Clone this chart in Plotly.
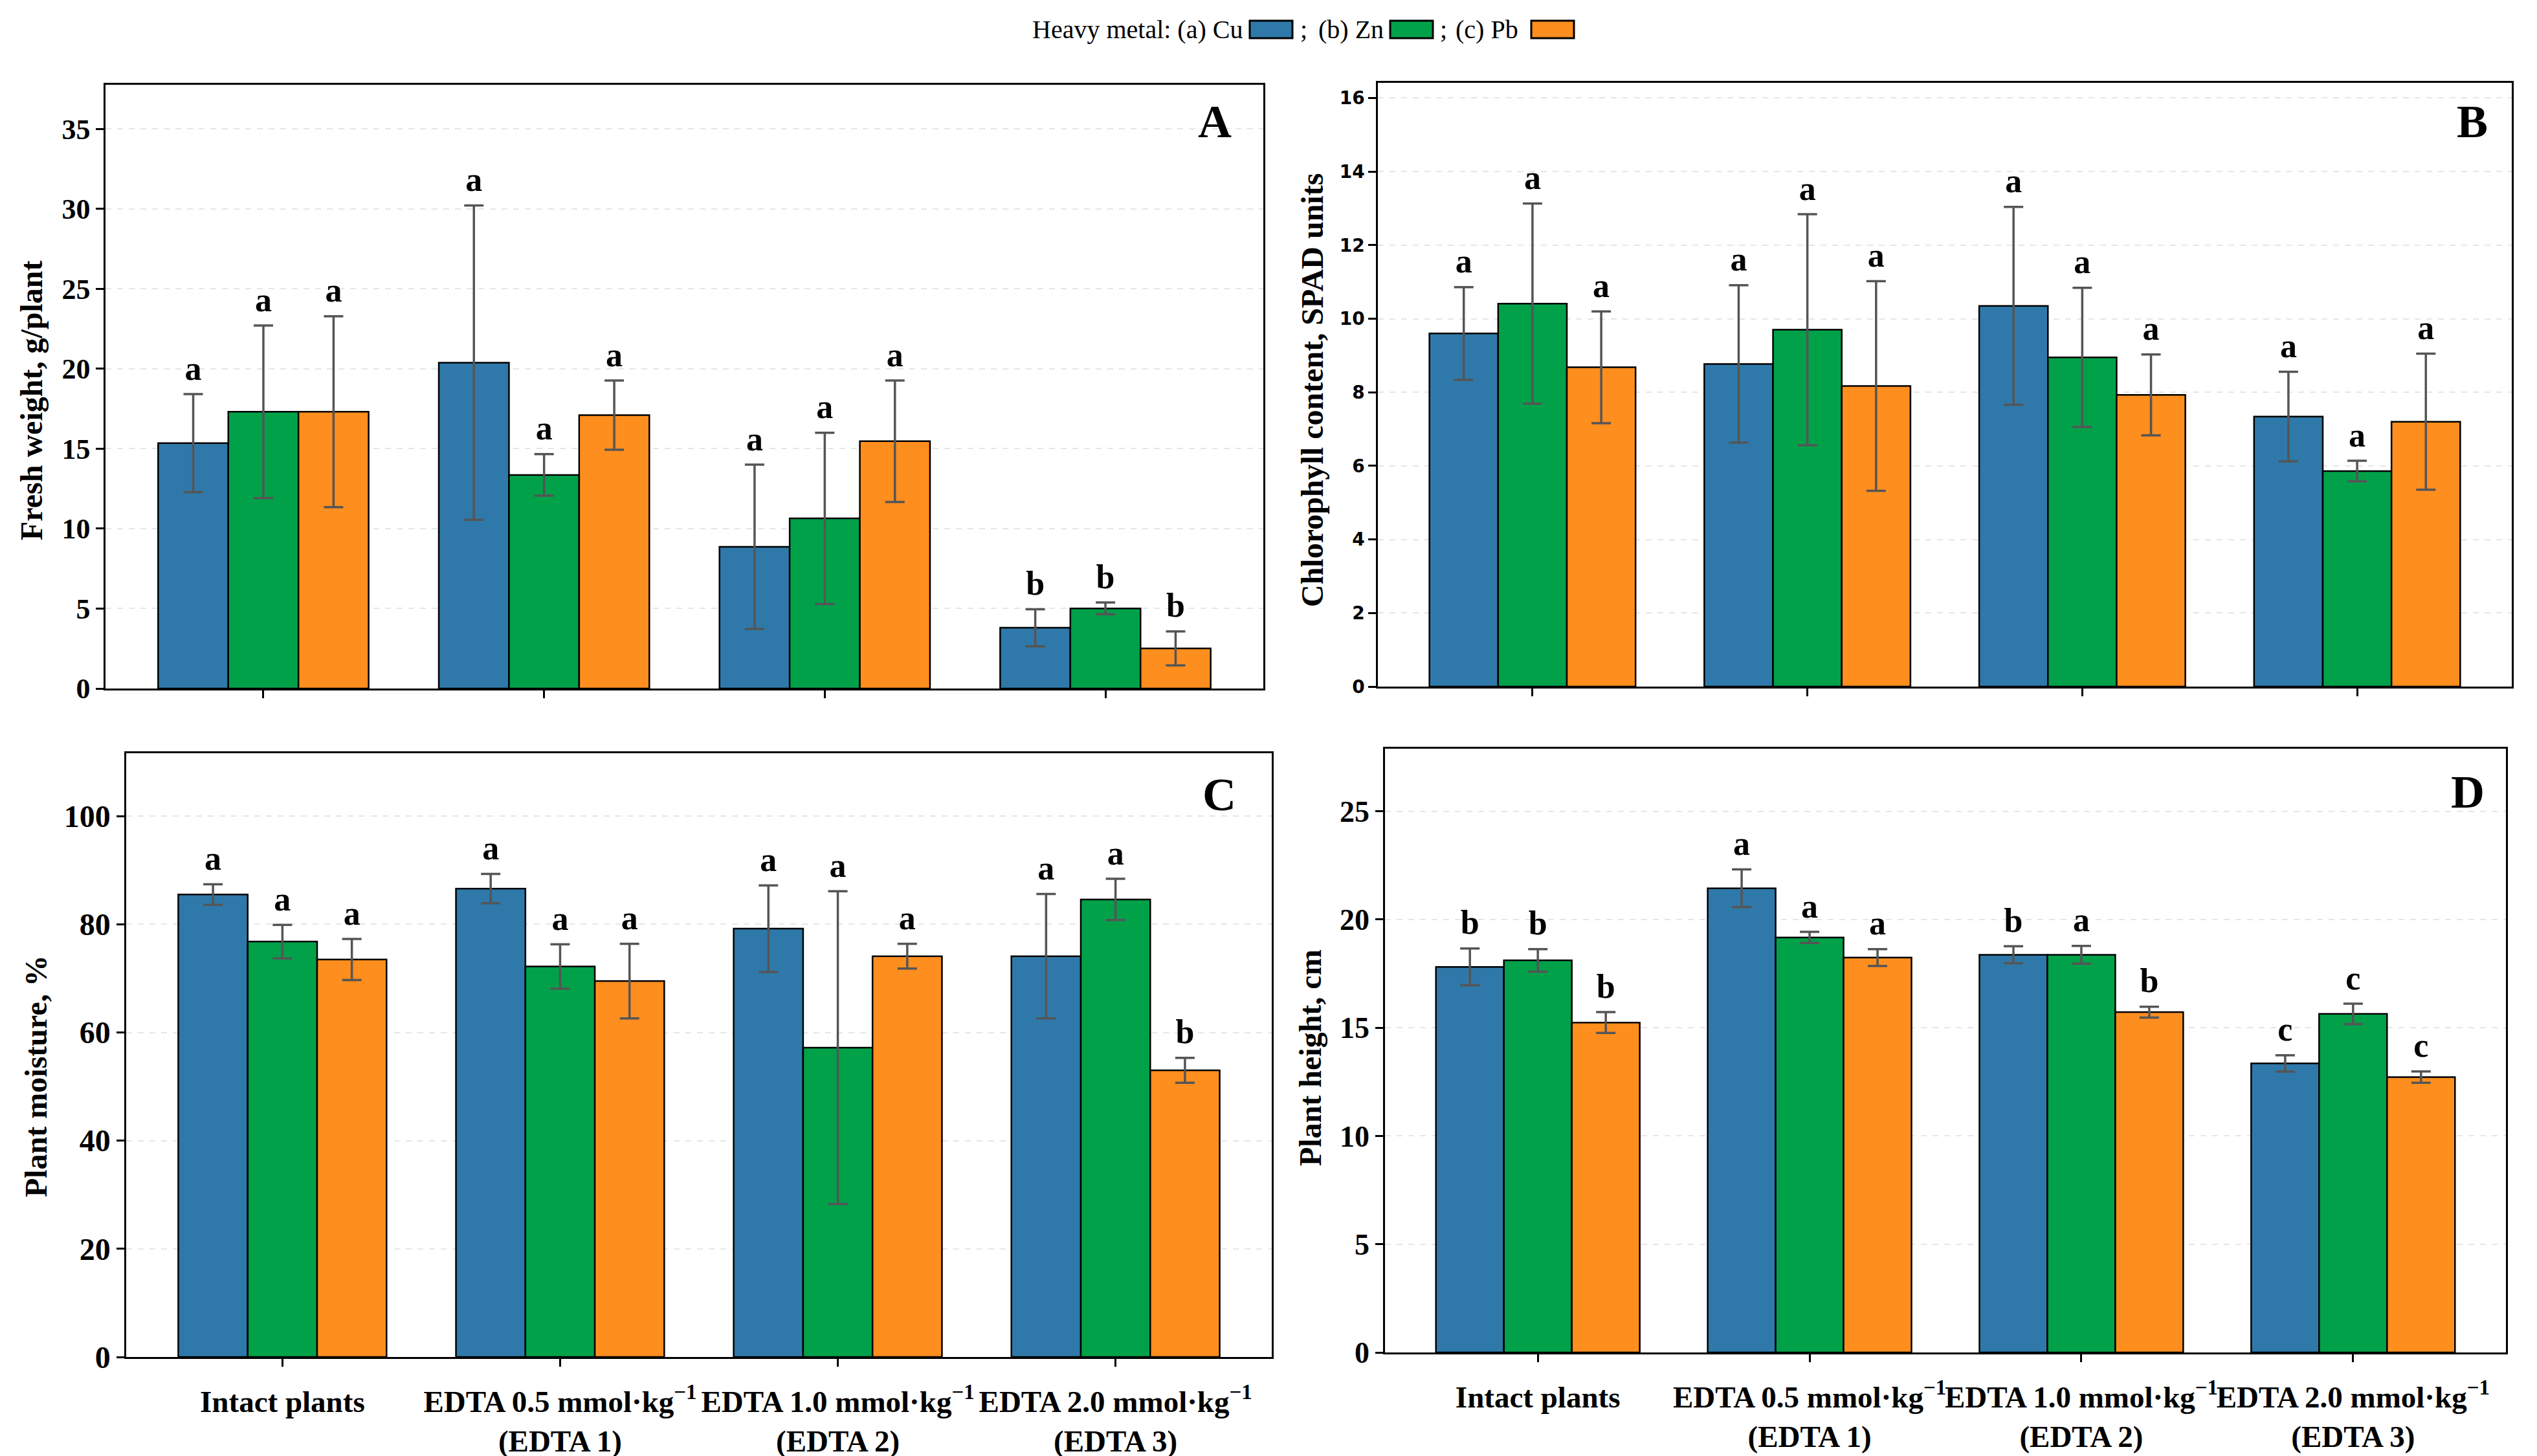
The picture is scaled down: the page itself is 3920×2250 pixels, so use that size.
import plotly.graph_objects as go

W, H = 3920, 2250

categories = [
    "Intact plants",
    "EDTA 0.5 mmol·kg<sup>−1</sup><br>(EDTA 1)",
    "EDTA 1.0 mmol·kg<sup>−1</sup><br>(EDTA 2)",
    "EDTA 2.0 mmol·kg<sup>−1</sup><br>(EDTA 3)",
]
metals = ["Cu", "Zn", "Pb"]
colors = ["#2E79A9", "#01A14A", "#FE8E1E"]

# Panel A: fresh weight, g/plant
fw_cu = [15.35, 20.38, 8.86, 3.80]
fw_cu_sd = [3.07, 9.83, 5.14, 1.16]
fw_zn = [17.31, 13.36, 10.64, 5.01]
fw_zn_sd = [5.40, 1.30, 5.36, 0.37]
fw_pb = [17.31, 17.10, 15.47, 2.51]
fw_pb_sd = [5.97, 2.17, 3.80, 1.06]
fw_let_cu = ["a", "a", "a", "b"]
fw_let_zn = ["a", "a", "a", "b"]
fw_let_pb = ["a", "a", "a", "b"]

# Panel B: chlorophyll, SPAD units
chl_cu = [9.60, 8.77, 10.35, 7.34]
chl_cu_sd = [1.26, 2.14, 2.69, 1.22]
chl_zn = [10.41, 9.70, 8.95, 5.86]
chl_zn_sd = [2.72, 3.14, 1.89, 0.28]
chl_pb = [8.68, 8.17, 7.93, 7.20]
chl_pb_sd = [1.52, 2.85, 1.10, 1.85]
chl_let_cu = ["a", "a", "a", "a"]
chl_let_zn = ["a", "a", "a", "a"]
chl_let_pb = ["a", "a", "a", "a"]

# Panel C: plant moisture, %
mo_cu = [85.5, 86.6, 79.2, 74.1]
mo_cu_sd = [1.9, 2.7, 8.0, 11.5]
mo_zn = [76.8, 72.2, 57.2, 84.6]
mo_zn_sd = [3.1, 4.1, 28.9, 3.8]
mo_pb = [73.5, 69.5, 74.1, 53.0]
mo_pb_sd = [3.8, 6.9, 2.3, 2.3]
mo_let_cu = ["a", "a", "a", "a"]
mo_let_zn = ["a", "a", "a", "a"]
mo_let_pb = ["a", "a", "a", "b"]

# Panel D: plant height, cm
ht_cu = [17.81, 21.44, 18.37, 13.35]
ht_cu_sd = [0.85, 0.87, 0.39, 0.38]
ht_zn = [18.11, 19.17, 18.37, 15.64]
ht_zn_sd = [0.52, 0.26, 0.41, 0.47]
ht_pb = [15.24, 18.24, 15.72, 12.72]
ht_pb_sd = [0.48, 0.39, 0.25, 0.26]
ht_let_cu = ["b", "a", "b", "c"]
ht_let_zn = ["b", "a", "a", "c"]
ht_let_pb = ["b", "a", "b", "c"]

SERIF = "Liberation Serif"

panels = [
    dict(means=[fw_cu, fw_zn, fw_pb], sds=[fw_cu_sd, fw_zn_sd, fw_pb_sd],
         lets=[fw_let_cu, fw_let_zn, fw_let_pb], title="Fresh weight, g/plant",
         label="A", dtick=5, box=(155, 1944, 123, 1056), tick_font=dict(family=SERIF, size=44),
         title_px=(40, 611), label_px=(1869, 180), show_x=False),
    dict(means=[chl_cu, chl_zn, chl_pb], sds=[chl_cu_sd, chl_zn_sd, chl_pb_sd],
         lets=[chl_let_cu, chl_let_zn, chl_let_pb], title="Chlorophyll content, SPAD units",
         label="B", dtick=2, box=(2121, 3873, 120, 1053), tick_font=dict(family="DejaVu Sans", size=28),
         title_px=(2019, 595), label_px=(3812, 180), show_x=False),
    dict(means=[mo_cu, mo_zn, mo_pb], sds=[mo_cu_sd, mo_zn_sd, mo_pb_sd],
         lets=[mo_let_cu, mo_let_zn, mo_let_pb], title="Plant moisture, %",
         label="C", dtick=20, box=(187, 1957, 1156, 2089), tick_font=dict(family=SERIF, size=48),
         title_px=(47, 1655), label_px=(1876, 1220), show_x=True),
    dict(means=[ht_cu, ht_zn, ht_pb], sds=[ht_cu_sd, ht_zn_sd, ht_pb_sd],
         lets=[ht_let_cu, ht_let_zn, ht_let_pb], title="Plant height, cm",
         label="D", dtick=5, box=(2132, 3864, 1149, 2082), tick_font=dict(family=SERIF, size=46),
         title_px=(2016, 1626), label_px=(3805, 1216), show_x=True),
]


def px(x):
    return x / W


def py(y):
    return 1 - y / H


fig = go.Figure()
layout = {}
annotations = []
shapes = []
xpos = list(range(len(categories)))
offsets = [-0.25, 0.0, 0.25]

for p, pan in enumerate(panels, start=1):
    xa = "x" if p == 1 else f"x{p}"
    ya = "y" if p == 1 else f"y{p}"
    ymax = 1.25 * max(m + s for ms, ss in zip(pan["means"], pan["sds"]) for m, s in zip(ms, ss))
    for j in range(3):
        fig.add_trace(go.Bar(
            x=xpos, y=pan["means"][j], name=metals[j], xaxis=xa, yaxis=ya,
            marker=dict(color=colors[j], line=dict(color="black", width=2.5)),
            error_y=dict(type="data", array=pan["sds"][j], color="#555555", thickness=3.5, width=15),
            offsetgroup=str(j), showlegend=False,
        ))
        fig.add_trace(go.Scatter(
            x=[i + offsets[j] for i in xpos],
            y=[m + s + 0.01 * ymax for m, s in zip(pan["means"][j], pan["sds"][j])],
            text=pan["lets"][j], mode="text", textposition="top center",
            textfont=dict(family=SERIF, size=52, color="black", weight="bold"),
            xaxis=xa, yaxis=ya, showlegend=False, hoverinfo="skip",
        ))
    x0, x1, y0, y1 = pan["box"]
    kx = "xaxis" if p == 1 else f"xaxis{p}"
    ky = "yaxis" if p == 1 else f"yaxis{p}"
    layout[kx] = dict(
        domain=[px(x0), px(x1)], anchor=ya, range=[-0.5625, 3.5625],
        tickmode="array", tickvals=xpos, ticktext=categories, tickangle=0,
        showticklabels=pan["show_x"], ticks="outside", ticklen=12, tickwidth=2.5, tickcolor="black",
        showline=True, mirror=True, linecolor="black", linewidth=2.5,
        showgrid=False, zeroline=False, automargin=False, ticklabelstandoff=14,
        tickfont=dict(family=SERIF, size=47, color="black", weight="bold"),
    )
    tf = dict(pan["tick_font"])
    tf.update(color="black", weight="bold")
    layout[ky] = dict(
        domain=[py(y1), py(y0)], anchor=xa, range=[0, ymax], dtick=pan["dtick"], tick0=0,
        ticks="outside", ticklen=12, tickwidth=2.5, tickcolor="black",
        showline=True, mirror=True, linecolor="black", linewidth=2.5,
        showgrid=True, gridcolor="#e6e6e6", griddash="dash", gridwidth=2,
        zeroline=False, automargin=False, tickfont=tf,
    )
    tx, ty = pan["title_px"]
    annotations.append(dict(
        text=pan["title"], xref="paper", yref="paper", x=px(tx), y=py(ty),
        xanchor="center", yanchor="middle", textangle=-90, showarrow=False,
        font=dict(family=SERIF, size=48, color="black", weight="bold"),
    ))
    lx, ly = pan["label_px"]
    annotations.append(dict(
        text=pan["label"], xref="paper", yref="paper", x=px(lx), y=py(ly),
        xanchor="center", yanchor="middle", showarrow=False,
        font=dict(family=SERIF, size=72, color="black", weight="bold"),
    ))

# Legend row at top
leg_font = dict(family=SERIF, size=40, color="black")
leg_items = [
    ("Heavy metal: (a) Cu", 1914, 1923),
    ("(b) Zn", 2132, 2140),
    ("(c) Pb", 2340, 2358),
]
leg_seps = [2006, 2222]
leg_y = 37
for (txt, xr, bx), col in zip(leg_items, colors):
    annotations.append(dict(text=txt, xref="paper", yref="paper", x=px(xr), y=py(leg_y),
                            xanchor="right", yanchor="middle", showarrow=False, font=leg_font))
    shapes.append(dict(type="rect", xref="paper", yref="paper",
                       x0=px(bx), x1=px(bx + 66), y0=py(leg_y + 14), y1=py(leg_y - 13),
                       fillcolor=col, line=dict(color="black", width=3)))
for sx in leg_seps:
    annotations.append(dict(text=";", xref="paper", yref="paper", x=px(sx), y=py(leg_y),
                            xanchor="center", yanchor="middle", showarrow=False, font=leg_font))

fig.update_layout(
    width=W, height=H, margin=dict(l=0, r=0, t=0, b=0),
    paper_bgcolor="white", plot_bgcolor="white",
    barmode="group", bargap=0.25, bargroupgap=0,
    annotations=annotations, shapes=shapes, showlegend=False,
    **layout,
)

fig.write_html("out.html")
